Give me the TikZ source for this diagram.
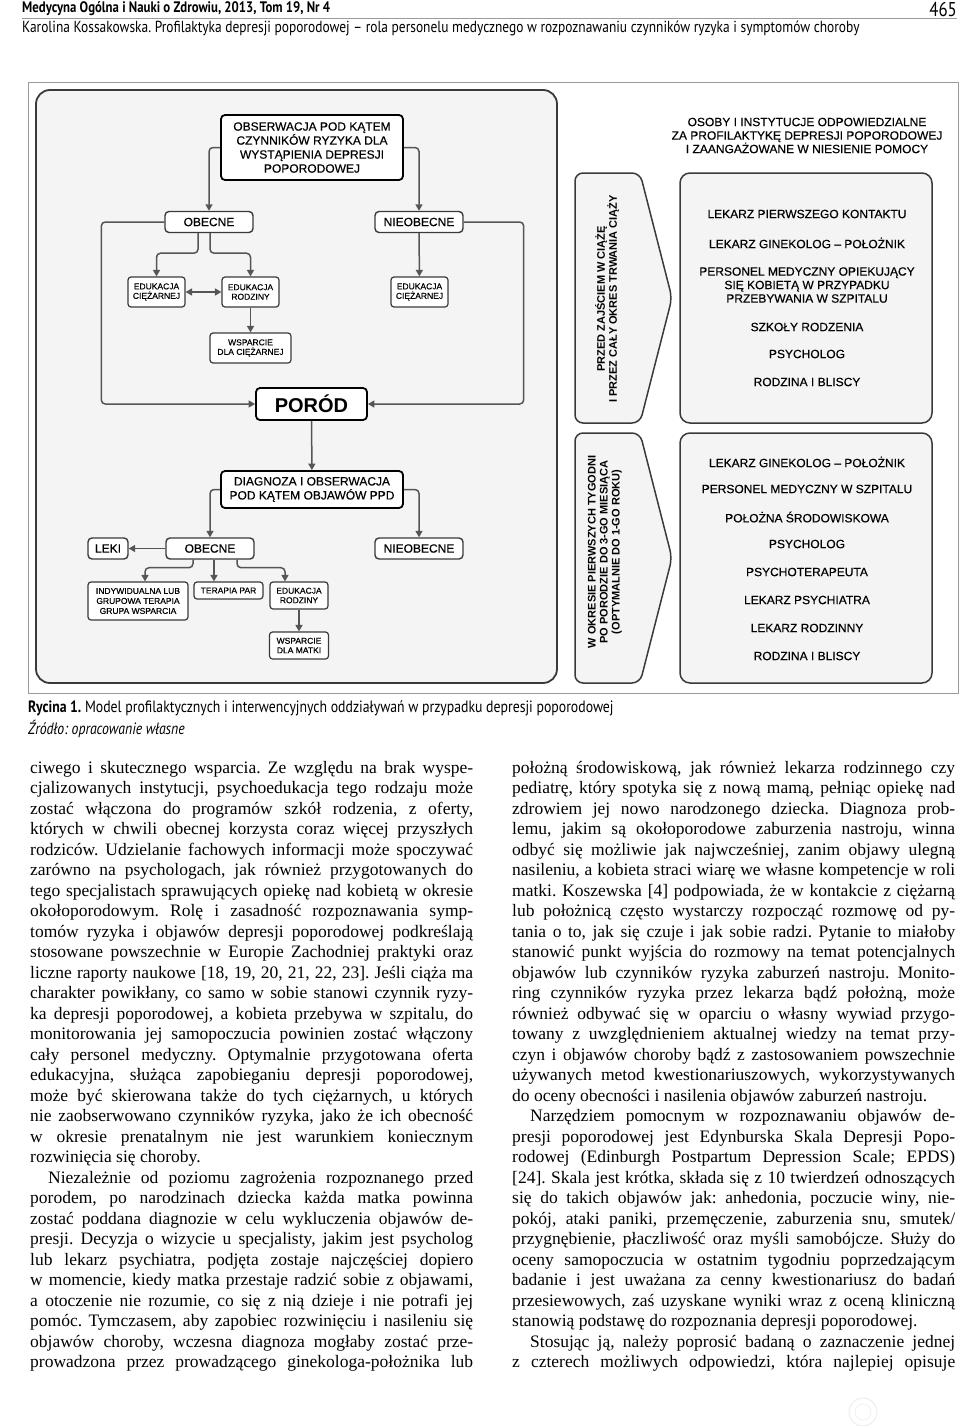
\documentclass[tikz,border=0pt]{standalone}
\usepackage{fontspec}
\setmainfont{Liberation Serif}
\setsansfont{Liberation Sans}
\newfontfamily\diagfont{Liberation Sans}[FakeBold=0.4]
\newfontfamily\hdfont{PT Sans}[FakeStretch=0.84]
\usetikzlibrary{arrows.meta,calc}
\definecolor{lineGray}{HTML}{555555}
\definecolor{panelGray}{HTML}{F4F4F4}
\definecolor{frameGray}{HTML}{9A9A9A}
\definecolor{boxEdge}{HTML}{3A3A3A}
\tolerance=9999
\hyphenpenalty=10000
\exhyphenpenalty=10000
\frenchspacing
\newcommand\brkln{\linebreak[4]}

\begin{document}
\begin{tikzpicture}[x=1pt,y=-1pt,
  bigbox/.style={draw=black,line width=1.8pt,rounded corners=4pt,fill=white,
                 inner sep=0pt,align=center,font=\diagfont\fontsize{12}{14}\selectfont},
  midbox/.style={draw=boxEdge,line width=1.4pt,rounded corners=4pt,fill=white,
                 inner sep=0pt,align=center,minimum height=21pt,
                 font=\diagfont\fontsize{12}{14}\selectfont},
  smallbox/.style={draw=boxEdge,line width=1.2pt,rounded corners=3pt,fill=white,
                 inner sep=0pt,align=center,font=\diagfont\fontsize{8.5}{9.5}\selectfont},
  conn/.style={draw=lineGray,line width=1.5pt,rounded corners=4pt,
               -{Triangle[length=6.5pt,width=7pt]}},
  conn2/.style={conn,{Triangle[length=6.5pt,width=7pt]}-{Triangle[length=6.5pt,width=7pt]}},
  item/.style={inner sep=0pt,align=center,font=\diagfont\fontsize{12}{13.5}\selectfont},
  vlabel/.style={rotate=90,inner sep=0pt,align=center,
                 font=\sffamily\bfseries\fontsize{11}{12}\selectfont},
  chev/.style={draw=boxEdge,fill=panelGray,line width=1.5pt,rounded corners=8pt},
  hdtext/.style={anchor=west,inner sep=0pt},
  body/.style={anchor=north west,inner sep=0pt,text width=443pt,align=justify,
               font=\fontsize{17.5}{20.5}\selectfont}]
\useasboundingbox (0,0) rectangle (960,1426);

%% running head
\node[hdtext,font=\hdfont\bfseries\fontsize{15.2}{16}\selectfont] (jrnl) at (22,9)
  {Medycyna Ogólna i Nauki o Zdrowiu, 2013, Tom 19, Nr 4};
\node[anchor=east,inner sep=0pt,font=\hdfont\fontsize{20}{22}\selectfont] (pgno) at (957,10) {465};
\draw[frameGray,line width=0.6pt] (22,18.5) -- (957,18.5);
\node[hdtext,font=\hdfont\fontsize{16}{17}\selectfont] (runhd) at (22,28)
  {Karolina Kossakowska. Profilaktyka depresji poporodowej – rola personelu medycznego w rozpoznawaniu czynników ryzyka i symptomów choroby};

%% figure frame + left panel
\draw[frameGray,line width=1pt] (28,83) rectangle (958,693);
\draw[draw=boxEdge,fill=panelGray,line width=1.8pt,rounded corners=14pt] (36,90) rectangle (557,683);

%% before birth
\node[bigbox,minimum width=182pt,minimum height=65pt] (obs) at (312,147.5)
  {OBSERWACJA POD KĄTEM\\CZYNNIKÓW RYZYKA DLA\\WYSTĄPIENIA DEPRESJI\\POPORODOWEJ};
\node[midbox,minimum width=88pt] (obc1) at (209,222) {OBECNE};
\node[midbox,minimum width=88pt] (nob1) at (419,222) {NIEOBECNE};
\node[smallbox,minimum width=57pt,minimum height=30pt] (edc1) at (156.5,292) {EDUKACJA\\CIĘŻARNEJ};
\node[smallbox,minimum width=57pt,minimum height=30pt] (edr1) at (250.5,292) {EDUKACJA\\RODZINY};
\node[smallbox,minimum width=81pt,minimum height=30pt] (wspc) at (250.5,348) {WSPARCIE\\DLA CIĘŻARNEJ};
\node[smallbox,minimum width=57pt,minimum height=30pt] (edc2) at (419.5,292) {EDUKACJA\\CIĘŻARNEJ};
\node[bigbox,minimum width=111pt,minimum height=32pt,
      font=\sffamily\bfseries\fontsize{20}{22}\selectfont] (porod) at (311.5,404) {PORÓD};

\draw[conn] (obs.west) -| (obc1.north);
\draw[conn] (obs.east) -| (nob1.north);
\draw[conn] ([xshift=-11pt]obc1.south) -- ++(0,20) -| (edc1.north);
\draw[conn] ([xshift=1pt]obc1.south) -- ++(0,20) -| (edr1.north);
\draw[conn2] (edc1) -- (edr1);
\draw[conn] (edr1) -- (wspc);
\draw[conn] (nob1) -- (edc2);
\draw[conn] (obc1.west) -- ++(-63,0) |- (porod.west);
\draw[conn] (nob1.east) -- ++(60,0) |- (porod.east);

%% after birth
\node[bigbox,minimum width=182pt,minimum height=37pt] (diag) at (312,489.5)
  {DIAGNOZA I OBSERWACJA\\POD KĄTEM OBJAWÓW PPD};
\node[midbox,minimum width=88pt] (obc2) at (210,548.5) {OBECNE};
\node[midbox,minimum width=88pt] (nob2) at (419,548.5) {NIEOBECNE};
\node[midbox,minimum width=40pt] (leki) at (108,548.5) {LEKI};
\node[smallbox,minimum width=100pt,minimum height=38pt,
      font=\diagfont\fontsize{8.5}{10}\selectfont] (indyw) at (138,601)
  {INDYWIDUALNA LUB\\GRUPOWA TERAPIA\\GRUPA WSPARCIA};
\node[smallbox,minimum width=69pt,minimum height=17pt] (terap) at (228.5,590.5) {TERAPIA PAR};
\node[smallbox,minimum width=58pt,minimum height=27pt] (edr2) at (299,595.5) {EDUKACJA\\RODZINY};
\node[smallbox,minimum width=59pt,minimum height=27pt] (wspm) at (299,645.5) {WSPARCIE\\DLA MATKI};

\draw[conn] (porod) -- (diag);
\draw[conn] (diag.west) -| (obc2.north);
\draw[conn] (diag.east) -| (nob2.north);
\draw[conn] (obc2) -- (leki);
\draw[conn] ([xshift=-17pt]obc2.south) -- ++(0,8) -| ([xshift=7pt]indyw.north);
\draw[conn] ([xshift=4pt]obc2.south) -- ([xshift=-14.5pt]terap.north);
\draw[conn] ([xshift=27pt]obc2.south) -- ++(0,8) -| ([xshift=-14pt]edr2.north);
\draw[conn] (edr2) -- (wspm);

%% who is responsible (right)
\node[item] (osoby) at (807,135.5)
  {OSOBY I INSTYTUCJE ODPOWIEDZIALNE\\ZA PROFILAKTYKĘ DEPRESJI POPORODOWEJ\\I ZAANGAŻOWANE W NIESIENIE POMOCY};

\draw[chev] (575,173) -- (640,173) -- (672,298) -- (640,423) -- (575,423) -- cycle;
\draw[chev] (575,433) -- (640,433) -- (672,558) -- (640,683) -- (575,683) -- cycle;
\draw[chev,rounded corners=10pt] (680,173) rectangle (932,423);
\draw[chev,rounded corners=10pt] (680,433) rectangle (932,683);

\node[vlabel] (przed) at (607,299) {PRZED ZAJŚCIEM W CIĄŻĘ\\I PRZEZ CAŁY OKRES TRWANIA CIĄŻY};
\node[vlabel] (wokr) at (605,552) {W OKRESIE PIERWSZYCH TYGODNI\\PO PORODZIE DO 3-GO MIESIĄCA\\(OPTYMALNIE DO 1-GO ROKU)};

\node[item] (ciaz1) at (807,214) {LEKARZ PIERWSZEGO KONTAKTU};
\node[item] (ciaz2) at (807,243) {LEKARZ GINEKOLOG – POŁOŻNIK};
\node[item] (ciaz3) at (807,285) {PERSONEL MEDYCZNY OPIEKUJĄCY\\SIĘ KOBIETĄ W PRZYPADKU\\PRZEBYWANIA W SZPITALU};
\node[item] (ciaz4) at (807,327) {SZKOŁY RODZENIA};
\node[item] (ciaz5) at (807,354) {PSYCHOLOG};
\node[item] (ciaz6) at (807,382) {RODZINA I BLISCY};

\node[item] (pop1) at (807,462) {LEKARZ GINEKOLOG – POŁOŻNIK};
\node[item] (pop2) at (807,489) {PERSONEL MEDYCZNY W SZPITALU};
\node[item] (pop3) at (807,517) {POŁOŻNA ŚRODOWISKOWA};
\node[item] (pop4) at (807,544) {PSYCHOLOG};
\node[item] (pop5) at (807,572) {PSYCHOTERAPEUTA};
\node[item] (pop6) at (807,600) {LEKARZ PSYCHIATRA};
\node[item] (pop7) at (807,628) {LEKARZ RODZINNY};
\node[item] (pop8) at (807,656) {RODZINA I BLISCY};

%% caption
\node[hdtext,font=\hdfont\fontsize{16.4}{17}\selectfont] (capt) at (28,708)
  {\textbf{Rycina 1.} Model profilaktycznych i interwencyjnych oddziaływań w przypadku depresji poporodowej};
\node[hdtext,font=\hdfont\itshape\fontsize{16.4}{17}\selectfont] (zrodlo) at (28,729)
  {Źródło: opracowanie własne};

%% body text, two columns
\node[body] (colL) at (30,761) {ciwego i skutecznego wsparcia. Ze względu na brak wyspe-\brkln
cjalizowanych instytucji, psychoedukacja tego rodzaju może\brkln
zostać włączona do programów szkół rodzenia, z oferty,\brkln
których w chwili obecnej korzysta coraz więcej przyszłych\brkln
rodziców. Udzielanie fachowych informacji może spoczywać\brkln
zarówno na psychologach, jak również przygotowanych do\brkln
tego specjalistach sprawujących opiekę nad kobietą w okresie\brkln
okołoporodowym. Rolę i zasadność rozpoznawania symp-\brkln
tomów ryzyka i objawów depresji poporodowej podkreślają\brkln
stosowane powszechnie w Europie Zachodniej praktyki oraz\brkln
liczne raporty naukowe [18, 19, 20, 21, 22, 23]. Jeśli ciąża ma\brkln
charakter powikłany, co samo w sobie stanowi czynnik ryzy-\brkln
ka depresji poporodowej, a kobieta przebywa w szpitalu, do\brkln
monitorowania jej samopoczucia powinien zostać włączony\brkln
cały personel medyczny. Optymalnie przygotowana oferta\brkln
edukacyjna, służąca zapobieganiu depresji poporodowej,\brkln
może być skierowana także do tych ciężarnych, u których\brkln
nie zaobserwowano czynników ryzyka, jako że ich obecność\brkln
w okresie prenatalnym nie jest warunkiem koniecznym\brkln
rozwinięcia się choroby.\par
\hspace*{18pt}Niezależnie od poziomu zagrożenia rozpoznanego przed\brkln
porodem, po narodzinach dziecka każda matka powinna\brkln
zostać poddana diagnozie w celu wykluczenia objawów de-\brkln
presji. Decyzja o wizycie u specjalisty, jakim jest psycholog\brkln
lub lekarz psychiatra, podjęta zostaje najczęściej dopiero\brkln
w momencie, kiedy matka przestaje radzić sobie z objawami,\brkln
a otoczenie nie rozumie, co się z nią dzieje i nie potrafi jej\brkln
pomóc. Tymczasem, aby zapobiec rozwinięciu i nasileniu się\brkln
objawów choroby, wczesna diagnoza mogłaby zostać prze-\brkln
prowadzona przez prowadzącego ginekologa-położnika lub\brkln};

\node[body] (colR) at (512,761) {położną środowiskową, jak również lekarza rodzinnego czy\brkln
pediatrę, który spotyka się z nową mamą, pełniąc opiekę nad\brkln
zdrowiem jej nowo narodzonego dziecka. Diagnoza prob-\brkln
lemu, jakim są okołoporodowe zaburzenia nastroju, winna\brkln
odbyć się możliwie jak najwcześniej, zanim objawy ulegną\brkln
nasileniu, a kobieta straci wiarę we własne kompetencje w roli\brkln
matki. Koszewska [4] podpowiada, że w kontakcie z ciężarną\brkln
lub położnicą często wystarczy rozpocząć rozmowę od py-\brkln
tania o to, jak się czuje i jak sobie radzi. Pytanie to miałoby\brkln
stanowić punkt wyjścia do rozmowy na temat potencjalnych\brkln
objawów lub czynników ryzyka zaburzeń nastroju. Monito-\brkln
ring czynników ryzyka przez lekarza bądź położną, może\brkln
również odbywać się w oparciu o własny wywiad przygo-\brkln
towany z uwzględnieniem aktualnej wiedzy na temat przy-\brkln
czyn i objawów choroby bądź z zastosowaniem powszechnie\brkln
używanych metod kwestionariuszowych, wykorzystywanych\brkln
do oceny obecności i nasilenia objawów zaburzeń nastroju.\par
\hspace*{18pt}Narzędziem pomocnym w rozpoznawaniu objawów de-\brkln
presji poporodowej jest Edynburska Skala Depresji Popo-\brkln
rodowej (Edinburgh Postpartum Depression Scale; EPDS)\brkln
[24]. Skala jest krótka, składa się z 10 twierdzeń odnoszących\brkln
się do takich objawów jak: anhedonia, poczucie winy, nie-\brkln
pokój, ataki paniki, przemęczenie, zaburzenia snu, smutek/\brkln
przygnębienie, płaczliwość oraz myśli samobójcze. Służy do\brkln
oceny samopoczucia w ostatnim tygodniu poprzedzającym\brkln
badanie i jest uważana za cenny kwestionariusz do badań\brkln
przesiewowych, zaś uzyskane wyniki wraz z oceną kliniczną\brkln
stanowią podstawę do rozpoznania depresji poporodowej.\par
\hspace*{18pt}Stosując ją, należy poprosić badaną o zaznaczenie jednej\brkln
z czterech możliwych odpowiedzi, która najlepiej opisuje\brkln};

%% faint publisher mark
\draw[gray!14,line width=1pt] (863,1412) circle (14);
\draw[gray!12,line width=0.8pt] (863,1412) circle (8);
\end{tikzpicture}
\end{document}
